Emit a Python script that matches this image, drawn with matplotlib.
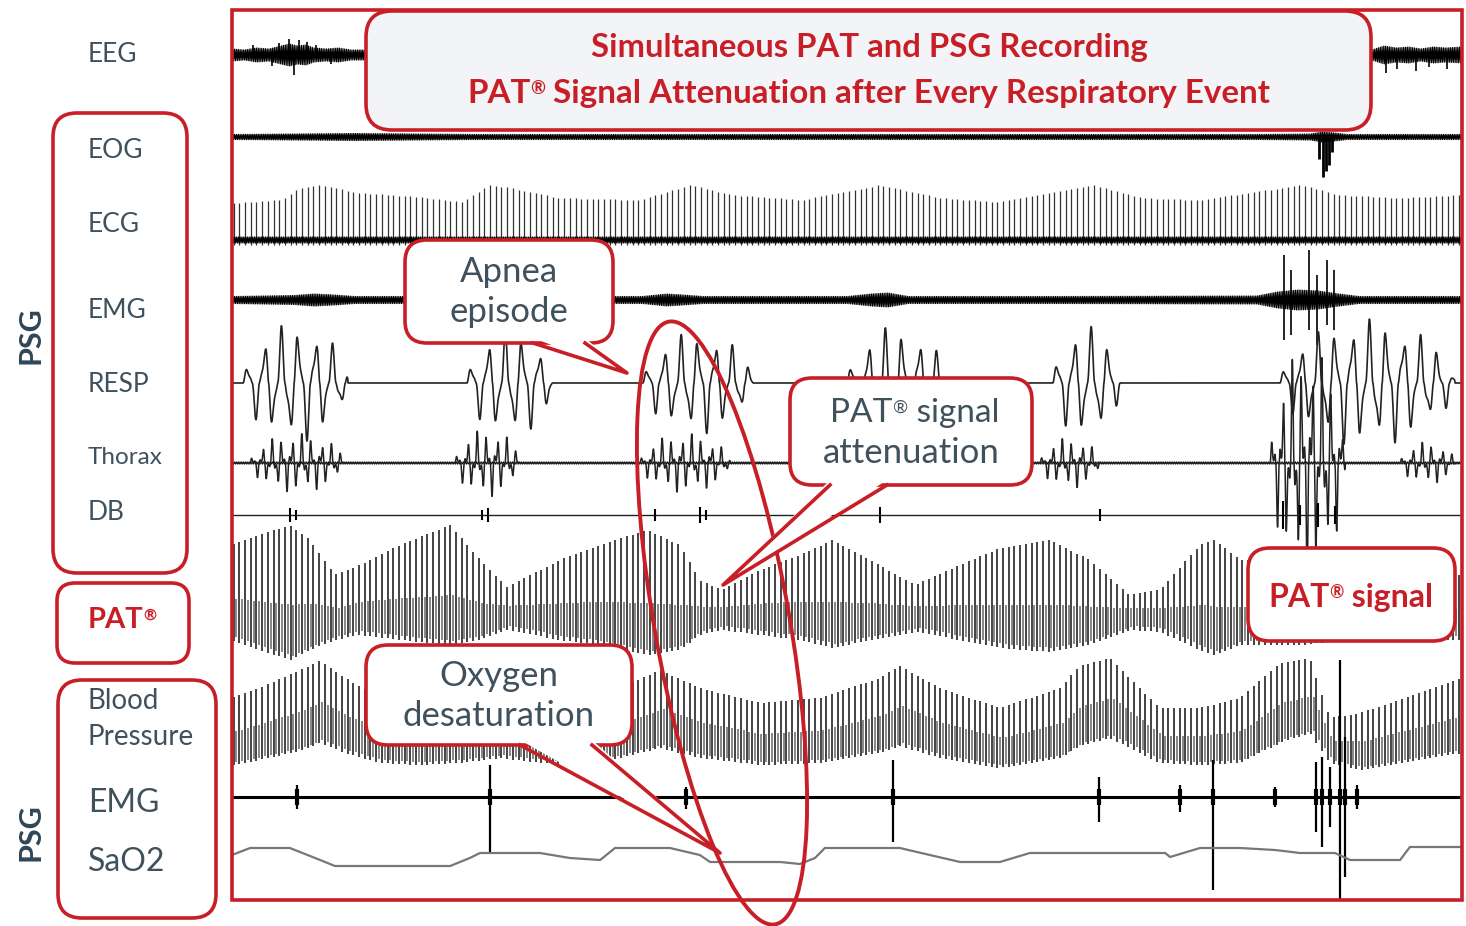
import numpy as np
import matplotlib.pyplot as plt
from matplotlib.patches import FancyBboxPatch, Ellipse, Polygon, Rectangle

RED = '#c81f27'
INK = '#3f515d'
DARK = '#2f4657'
plt.rcParams['font.family'] = ['Lato', 'DejaVu Sans']

# ---- values (time in s, amplitudes in sheet px, up = +)
t_end = 300.0
beat_step = 1.39          # s between heart beats

top_labels = ['EEG', 'EOG', 'ECG', 'EMG', 'RESP', 'Thorax', 'DB']
bottom_labels = ['Blood\nPressure', 'EMG', 'SaO2']

eeg_t = [0, 3, 6, 9, 12, 14, 16, 18, 20, 23, 26, 29, 32, 34, 278, 281, 284, 287, 290, 293, 296, 300]
eeg_w = [6, 5, 7, 6, 9, 11, 9, 10, 7, 6, 7, 5, 5, 4, 5, 9, 7, 8, 6, 8, 7, 8]
eeg_spike_t = [5.2, 9.8, 11.5, 13.8, 15.2, 16.4, 18.3, 20.6, 24.1, 281.5, 284.2, 288.7, 292.0, 296.3]
eeg_spike_a = [10, -11, 12, 16, -20, 15, 13, 10, -9, -18, -14, -16, -12, -14]

eog_t = [0, 30, 60, 100, 150, 200, 250, 263, 266, 269, 272, 300]
eog_w = [2.5, 3.5, 2.5, 2.5, 2.5, 2.5, 2.5, 3, 5, 4, 2.5, 2.5]
eog_dip_t = [265.2, 266.0, 266.8, 267.6, 268.4]
eog_dip_a = [-22, -40, -34, -28, -15]

ecg_t = [0, 12, 16.6, 21.5, 31, 46, 56, 63, 68, 80, 99.5, 112, 122, 139, 158,
         173, 187, 210, 222, 236, 261, 270, 285, 300]
ecg_h = [37, 40, 52, 55, 47, 43, 38, 55, 52, 42, 40, 55, 45, 40, 55,
         42, 38, 55, 42, 40, 55, 45, 42, 45]

emg_t = [0, 15, 20, 25, 30, 60, 100, 106, 110, 115, 150, 156, 160, 165, 200, 250, 255, 260, 265, 270, 275, 300]
emg_w = [3.5, 4.5, 6, 5, 3.5, 3.5, 3.5, 6, 5, 3.5, 3.5, 6, 7, 3.5, 3.5, 4, 8, 10, 9, 6, 3.5, 3.5]
emg_spike_t = [256.5, 258.3, 262.8, 264.6, 267.0, 268.8]
emg_spike_up = [45, 30, 50, 25, 40, 30]
emg_spike_dn = [40, 35, 30, 45, 25, 30]

resp_start = [2.7, 57.3, 100.2, 150.0, 200.2, 255.6]
resp_end = [28.3, 78.3, 127.1, 174.4, 216.6, 298.3]
resp_amp = [42, 38, 36, 40, 40, 45]
resp_period = 4.15

thx_start = [4.4, 54.4, 99.5, 197.1, 253.2, 284.9]
thx_end = [27.6, 70.2, 121.5, 211.7, 271.5, 298.3]
thx_amp = [14, 16, 14, 12, 55, 10]
thx_period = 2.4

db_t = [14.1, 15.6, 61, 62.4, 103.2, 114.1, 115.6, 158, 211.7, 256.3, 260.5, 264.9, 269]
db_a = [7, 5, 5, 7, 6, 8, 5, 8, 6, 14, 10, 12, 9]

pat_t = [0, 6.8, 14.1, 19, 25.1, 31.2, 41, 53.2, 60.5, 67.1, 80, 89.8, 101.2, 109.3, 114.1,
         119.5, 128.8, 138.5, 146.6, 155.6, 166.6, 177.6, 187.3, 199.5, 209.3, 219, 226.3,
         236.1, 239.8, 245.9, 260.5, 272.7, 284.9, 300]
pat_top = [53, 63, 73, 58, 23, 33, 53, 73, 38, 11, 38, 53, 68, 53, 18,
           8, 28, 43, 58, 38, 13, 33, 50, 58, 38, 3, 8,
           53, 58, 38, 38, 28, 18, 23]
pat_bot = [-42, -52, -62, -52, -42, -37, -42, -47, -42, -32, -42, -47, -57, -52, -37,
           -32, -37, -42, -50, -42, -34, -42, -50, -54, -47, -32, -34,
           -52, -57, -47, -47, -42, -42, -42]

bp_t = [0, 6.8, 16.6, 21.5, 27.6, 36.1, 45.9, 55.6, 65.4, 75.1, 84.9, 94.6, 104.4, 114.1,
        128.8, 143.4, 158, 162.9, 172.7, 187.3, 202, 206.8, 214.1, 226.3, 236.1, 245.9,
        255.6, 262.9, 267.8, 275.1, 289.8, 300]
bp_top = [20, 30, 48, 57, 40, 20, 15, 20, 30, 20, 15, 30, 48, 30,
          15, 20, 40, 52, 30, 10, 30, 52, 60, 10, 10, 20,
          55, 60, 0, 5, 25, 40]
bp_bot = [-47, -42, -33, -25, -35, -45, -47, -45, -40, -45, -47, -40, -30, -40,
          -47, -45, -35, -28, -40, -50, -40, -28, -20, -45, -47, -45,
          -25, -15, -45, -52, -42, -35]

emg2_t = [15.9, 62.9, 110.7, 161.2, 211.5, 231.2, 239.3, 254.4, 264.4, 265.9, 267.8, 270.2, 271.5, 274.4]
emg2_up = [12, 32, 10, 37, 20, 12, 37, 10, 35, 40, 30, 137, 60, 12]
emg2_dn = [12, 55, 12, 45, 25, 15, 93, 10, 35, 50, 30, 103, 80, 12]

sao2_t = [0, 4.4, 14.1, 21.5, 25.1, 41, 53.2, 58, 60.5, 75.1, 82.4, 89.8, 93.4, 106.8, 114.1,
          116.6, 133.7, 138.5, 142.2, 144.6, 162.9, 170.2, 177.6, 187.3, 194.6, 211.7, 227.6,
          228.8, 236.1, 245.9, 254.4, 260.5, 269, 272.7, 284.9, 287.3, 300]
sao2_y = [855, 848, 848, 860, 866, 866, 866, 858, 853, 853, 858, 860, 848, 848, 855,
          862, 862, 864, 858, 848, 848, 855, 862, 862, 853, 853, 853,
          857, 848, 848, 850, 853, 853, 860, 860, 847, 847]

# channel baselines on the sheet (rows)
row = dict(eeg=55, eog=137, ecg=240, emg=300, resp=383, thx=463, db=515,
           pat=598, bp=718, emg2=797)

fig = plt.figure(figsize=(14.66, 9.26), dpi=100)
tr = fig.add_axes([232 / 1466, 26 / 926, 1230 / 1466, 890 / 926])
tr.set_xlim(0, t_end)
tr.set_ylim(900, 10)
tr.axis('off')

tt = np.linspace(0, t_end, 6000)
tz = np.arange(0, t_end, 0.22)
beats = np.arange(0.4, t_end, beat_step)


def band(t, w, y0, lw=0.9):
    # dense zig-zag between the envelope edges -> fuzzy trace
    w = np.interp(tz, t, w)
    sign = np.where(np.arange(len(tz)) % 2 == 0, 1.0, -1.0)
    tr.plot(tz, y0 + w * sign, color='black', lw=lw)


def bursts(starts, ends, amps, period, y0, lw, jitter):
    y = np.full_like(tt, float(y0))
    for s, e, a in zip(starts, ends, amps):
        m = (tt >= s) & (tt <= e)
        u = (tt[m] - s) / (e - s)
        c = np.sin(2 * np.pi * (tt[m] - s) / period) + jitter * np.sin(2 * np.pi * (tt[m] - s) / (period * 0.43))
        c = np.sign(c) * np.abs(c) ** 1.6
        y[m] -= a * np.sin(np.pi * u) ** 0.5 * c
    tr.plot(tt, y, color='#222', lw=lw)


# EEG
band(eeg_t, eeg_w, row['eeg'])
tr.vlines(eeg_spike_t, row['eeg'], row['eeg'] - np.array(eeg_spike_a), color='black', lw=1.2)
# EOG
band(eog_t, eog_w, row['eog'])
tr.vlines(eog_dip_t, row['eog'], row['eog'] - np.array(eog_dip_a), color='black', lw=2)
# ECG
h = np.interp(beats, ecg_t, ecg_h)
tr.vlines(beats, row['ecg'] - h, row['ecg'] + 5, color='#333', lw=0.9)
band([0, t_end], [3, 3], row['ecg'])
# EMG
band(emg_t, emg_w, row['emg'])
tr.vlines(emg_spike_t, row['emg'] - np.array(emg_spike_up), row['emg'] + np.array(emg_spike_dn),
          color='black', lw=1.2)
# RESP, Thorax
bursts(resp_start, resp_end, resp_amp, resp_period, row['resp'], 1.2, 0.25)
band([0, t_end], [1.3, 1.3], row['thx'], lw=0.6)
bursts(thx_start, thx_end, thx_amp, thx_period, row['thx'], 1.1, 0.6)
# DB
tr.plot([0, t_end], [row['db'], row['db']], color='#222', lw=1.0)
tr.vlines(db_t, row['db'] - np.array(db_a), row['db'] + np.array(db_a), color='black', lw=1.5)
# PAT
top = row['pat'] - np.interp(beats, pat_t, pat_top)
bot = row['pat'] - np.interp(beats, pat_t, pat_bot)
tr.vlines(beats, top, bot, color='#111', lw=1.1)
tr.vlines(beats + beat_step / 2, (top + 2 * bot) / 3 - 10, bot - 4, color='#666', lw=1.1)
# Blood pressure
top = row['bp'] - np.interp(beats, bp_t, bp_top)
bot = row['bp'] - np.interp(beats, bp_t, bp_bot)
tr.vlines(beats, top, bot, color='#111', lw=1.1)
tr.vlines(beats + beat_step / 2, (top + bot) / 2, bot - 3, color='#666', lw=1.1)
# EMG (lower)
tr.plot([0, t_end], [row['emg2'], row['emg2']], color='black', lw=2.2)
tr.vlines(emg2_t, row['emg2'] - np.array(emg2_up), row['emg2'] + np.array(emg2_dn),
          color='black', lw=1.6)
tr.vlines(emg2_t, row['emg2'] - np.minimum(emg2_up, 8), row['emg2'] + np.minimum(emg2_dn, 8),
          color='black', lw=3)
# SaO2
tr.plot(sao2_t, sao2_y, color='#777', lw=1.6)

# ---- annotation layer, sheet pixels
ov = fig.add_axes([0, 0, 1, 1])
ov.set_xlim(0, 1466)
ov.set_ylim(926, 0)
ov.axis('off')
ov.patch.set_alpha(0)

ov.add_patch(Rectangle((232, 10), 1230, 890, fill=False, ec=RED, lw=2.6, zorder=3))


def rbox(x0, y0, x1, y1, fc='white', r=22):
    ov.add_patch(FancyBboxPatch((x0, y0), x1 - x0, y1 - y0,
                                boxstyle='round,pad=0,rounding_size=%d' % r,
                                fc=fc, ec=RED, lw=2.6, zorder=5))


def tail(b0, b1, y, tip):
    ov.add_patch(Polygon([(b0, y - 5), (b1, y - 5), tip], closed=True, fc='white', ec='none', zorder=6))
    ov.plot([b0, tip[0], b1], [y, tip[1], y], color=RED, lw=2.6, zorder=7)


def reg_text(x, y, pre, post, size, **kw):
    # text with a raised registered sign after `pre`
    a = ov.text(x, y, pre, fontsize=size, ha='left', va='baseline', zorder=8, **kw)
    r = ov.annotate('®', xy=(1.0, 0.95), xycoords=a, fontsize=size * 0.55,
                    ha='left', va='top', zorder=8, **kw)
    ov.annotate(post, xy=(1.0, 0.0), xycoords=(r, a), fontsize=size,
                ha='left', va='bottom', zorder=8, **kw)


# left labels
for lab, y in zip(top_labels, [55, 150, 225, 310, 385, 458, 512]):
    ov.text(88, y, lab, fontsize=19 if lab != 'Thorax' else 17.5, color=INK,
            va='center', ha='left', zorder=8)
for lab, y, fs in zip(bottom_labels, [719, 803, 862], [20, 23, 23]):
    ov.text(88, y, lab, fontsize=fs, color=INK, va='center', ha='left',
            linespacing=1.5, zorder=8)
ov.text(30, 335, 'PSG', fontsize=22, fontweight='bold', color=DARK, rotation=90,
        va='center', ha='center')
ov.text(30, 832, 'PSG', fontsize=22, fontweight='bold', color=DARK, rotation=90,
        va='center', ha='center')
rbox(53, 113, 187, 573, fc='none', r=24)
rbox(57, 583, 189, 663, fc='none', r=18)
rbox(58, 680, 216, 918, fc='none', r=24)
reg_text(88, 628, 'PAT', '', 21, fontweight='bold', color=RED)

# title
rbox(366, 11, 1371, 130, fc='#f3f4f7', r=26)
ov.text(869, 48, 'Simultaneous PAT and PSG Recording', fontsize=23.7, fontweight='bold',
        color=RED, ha='center', va='center', zorder=8)
reg_text(467, 103, 'PAT', ' Signal Attenuation after Every Respiratory Event', 23.9,
         fontweight='bold', color=RED)

# ellipse around one event
ov.add_patch(Ellipse((722, 623), 135, 612, angle=-10, fill=False, ec=RED, lw=2.8, zorder=4))

# callouts
rbox(405, 240, 613, 343)
tail(533, 585, 343, (627, 373))
ov.text(509, 292, 'Apnea\nepisode', fontsize=25, color=INK, ha='center', va='center',
        linespacing=1.32, zorder=8)

rbox(790, 378, 1032, 485)
tail(830, 887, 485, (723, 585))
reg_text(830, 422, 'PAT', ' signal', 24, color=INK)
ov.text(911, 453, 'attenuation', fontsize=25, color=INK, ha='center', va='center', zorder=8)

rbox(366, 645, 632, 745)
tail(520, 592, 745, (720, 853))
ov.text(499, 696, 'Oxygen\ndesaturation', fontsize=25, color=INK, ha='center', va='center',
        linespacing=1.32, zorder=8)

rbox(1248, 548, 1455, 641)
reg_text(1268, 607, 'PAT', ' signal', 23, fontweight='bold', color=RED)

fig.savefig('out.png', dpi=100)
